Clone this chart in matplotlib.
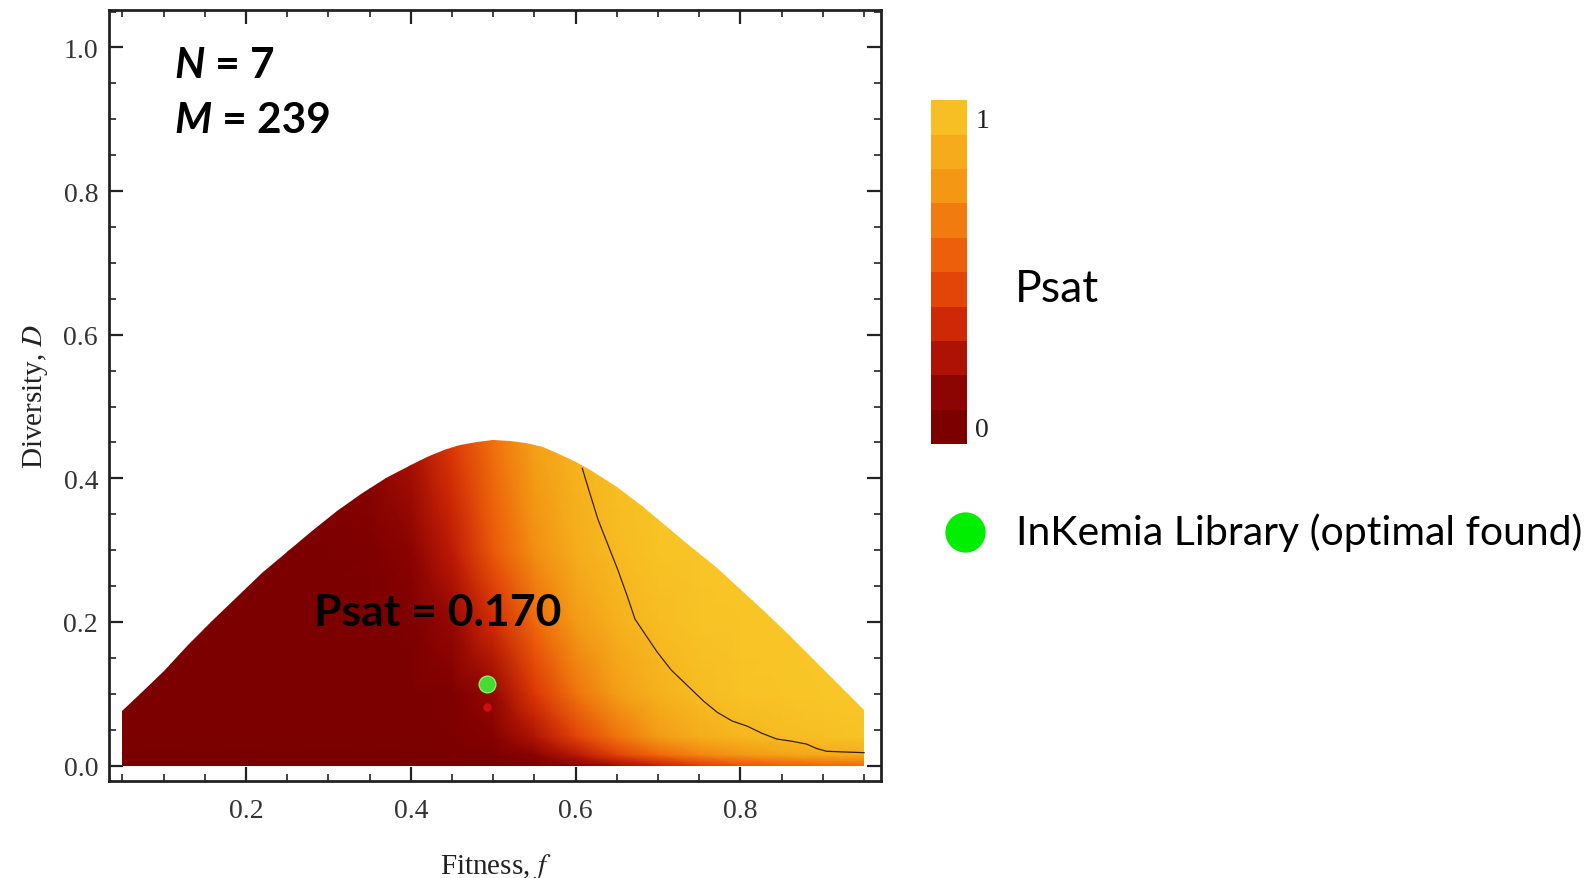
import numpy as np
import matplotlib
matplotlib.use('Agg')
import matplotlib.pyplot as plt
from matplotlib.colors import LinearSegmentedColormap, ListedColormap, Normalize
from matplotlib.patches import Polygon
from matplotlib.ticker import MultipleLocator
import matplotlib.cm as cm

# Psat sampled on a (D, f) grid
f_grid = [0.05, 0.15, 0.25, 0.35, 0.40, 0.45, 0.50, 0.55, 0.60, 0.65, 0.70, 0.75, 0.80, 0.85, 0.90, 0.95]
D_grid = [0.0, 0.015, 0.04, 0.10, 0.20, 0.30, 0.46]
psat_D000 = [0.00, 0.00, 0.00, 0.00, 0.00, 0.00, 0.02, 0.05, 0.12, 0.22, 0.32, 0.42, 0.50, 0.55, 0.58, 0.60]
psat_D015 = [0.01, 0.01, 0.01, 0.01, 0.01, 0.02, 0.06, 0.14, 0.28, 0.44, 0.58, 0.68, 0.75, 0.80, 0.84, 0.86]
psat_D040 = [0.03, 0.03, 0.03, 0.03, 0.04, 0.06, 0.12, 0.26, 0.44, 0.62, 0.77, 0.86, 0.91, 0.94, 0.96, 0.97]
psat_D100 = [0.03, 0.03, 0.03, 0.04, 0.05, 0.09, 0.18, 0.40, 0.62, 0.78, 0.88, 0.94, 0.97, 0.98, 0.99, 0.99]
psat_D200 = [0.03, 0.03, 0.04, 0.05, 0.08, 0.18, 0.36, 0.58, 0.77, 0.88, 0.94, 0.97, 0.98, 0.99, 0.99, 0.99]
psat_D300 = [0.03, 0.04, 0.05, 0.08, 0.14, 0.30, 0.52, 0.72, 0.86, 0.93, 0.97, 0.98, 0.99, 0.99, 0.99, 0.99]
psat_D460 = [0.05, 0.06, 0.08, 0.15, 0.25, 0.42, 0.62, 0.80, 0.90, 0.95, 0.98, 0.99, 0.99, 0.99, 0.99, 0.99]

# upper edge of the feasible (f, D) region
f_edge = [0.05, 0.07, 0.10, 0.13, 0.16, 0.19, 0.22, 0.25, 0.28, 0.31, 0.34, 0.37, 0.40, 0.42,
          0.44, 0.46, 0.48, 0.50, 0.52, 0.54, 0.56, 0.58, 0.60, 0.62, 0.65, 0.68, 0.71, 0.74,
          0.77, 0.80, 0.83, 0.86, 0.89, 0.92, 0.95]
D_edge = [0.076, 0.098, 0.132, 0.168, 0.203, 0.236, 0.268, 0.298, 0.327, 0.354, 0.378, 0.400, 0.419, 0.430,
          0.440, 0.447, 0.451, 0.453, 0.452, 0.449, 0.443, 0.434, 0.423, 0.410, 0.388, 0.362, 0.334, 0.305,
          0.276, 0.246, 0.214, 0.180, 0.146, 0.112, 0.078]

# iso-Psat line
f_iso = [0.608, 0.617, 0.627, 0.640, 0.651, 0.662, 0.672, 0.686, 0.699, 0.716, 0.736, 0.755, 0.772, 0.790, 0.808, 0.826, 0.844, 0.862, 0.880, 0.892, 0.904, 0.925, 0.950]
D_iso = [0.414, 0.380, 0.343, 0.305, 0.273, 0.238, 0.204, 0.180, 0.158, 0.133, 0.111, 0.090, 0.074, 0.062, 0.055, 0.045, 0.037, 0.034, 0.030, 0.024, 0.020, 0.019, 0.018]

# library point
lib_f = [0.493]
lib_D = [0.113]
red_f = [0.493]
red_D = [0.082]
psat_label = "Psat = 0.170"
N_val = 7
M_val = 239

colors = ['#7a0000', '#800000', '#9a0a04', '#c01a06', '#dc3606', '#ea5208', '#f06c0c',
          '#f28a12', '#f4a218', '#f6b41e', '#f8c828']
psat_cmap = LinearSegmentedColormap.from_list('psat', colors)
band_cmap = ListedColormap([psat_cmap(v) for v in np.linspace(0.05, 0.95, 10)])

plt.rcParams['font.family'] = ['Lato', 'DejaVu Sans']
plt.rcParams['mathtext.fontset'] = 'stix'

fig = plt.figure(figsize=(15.85, 8.79), dpi=100)
ax = fig.add_axes([0.0689, 0.1099, 0.4872, 0.8775])

Z = np.array([psat_D000, psat_D015, psat_D040, psat_D100, psat_D200, psat_D300, psat_D460])
F, D = np.meshgrid(f_grid, D_grid)
mesh = ax.pcolormesh(F, D, Z, cmap=psat_cmap, vmin=0, vmax=1, shading='gouraud', zorder=1)

region = Polygon(list(zip(f_edge, D_edge)) + [(0.95, 0.0), (0.05, 0.0)], closed=True,
                 transform=ax.transData, facecolor='none', edgecolor='none')
mesh.set_clip_path(region)

ax.plot(f_iso, D_iso, color='#3a2200', lw=0.9, zorder=2)
ax.plot(red_f, red_D, 'o', color='#d01010', ms=6, mec='none', zorder=3)
ax.plot(lib_f, lib_D, 'o', color='#44dd33', ms=12, mec='#88ee66', mew=1, zorder=4)

ax.set_xlim(0.034, 0.971)
ax.set_ylim(-0.022, 1.052)

serif = 'Liberation Serif'
ax.xaxis.set_major_locator(MultipleLocator(0.2))
ax.xaxis.set_minor_locator(MultipleLocator(0.05))
ax.yaxis.set_major_locator(MultipleLocator(0.2))
ax.yaxis.set_minor_locator(MultipleLocator(0.05))
ax.tick_params(which='both', direction='in', top=True, right=True, color='#222222')
ax.tick_params(which='major', length=10, width=1.6)
ax.tick_params(which='minor', length=5, width=1.2)
ax.tick_params(axis='x', pad=12)
ax.tick_params(axis='y', pad=8)
ax.set_xticks([0.2, 0.4, 0.6, 0.8])
ax.set_yticks([0.0, 0.2, 0.4, 0.6, 0.8, 1.0])
ax.set_xticklabels(['0.2', '0.4', '0.6', '0.8'], family=serif, fontsize=20, color='#333333')
ax.set_yticklabels(['0.0', '0.2', '0.4', '0.6', '0.8', '1.0'], family=serif, fontsize=20, color='#333333')
for sp in ax.spines.values():
    sp.set_linewidth(2)
    sp.set_color('#222222')

ax.set_xlabel('Fitness, $\\mathit{f}$', family=serif, fontsize=21, labelpad=20, color='#222222')
ax.set_ylabel('Diversity, $\\mathit{D}$', family=serif, fontsize=21, labelpad=10, color='#222222')

# N and M annotations
tN = ax.text(0.113, 0.959, 'N', fontsize=30.5, fontweight='bold', fontstyle='italic', va='baseline')
ax.annotate(' = %d' % N_val, xy=(1, 0), xycoords=tN, fontsize=30.5, fontweight='bold', va='bottom')
tM = ax.text(0.113, 0.882, 'M', fontsize=30.5, fontweight='bold', fontstyle='italic', va='baseline')
ax.annotate(' = %d' % M_val, xy=(1, 0), xycoords=tM, fontsize=30.5, fontweight='bold', va='bottom')

ax.text(0.432, 0.214, psat_label, fontsize=32, fontweight='bold', ha='center', va='center', zorder=5)

# colorbar
cax = fig.add_axes([0.5874, 0.4937, 0.0227, 0.391])
sm = cm.ScalarMappable(norm=Normalize(0, 1), cmap=band_cmap)
cb = fig.colorbar(sm, cax=cax, ticks=[0.05, 0.95])
cb.outline.set_visible(False)
cb.ax.tick_params(length=0, pad=6)
cb.ax.set_yticklabels(['0', '1'], family=serif, fontsize=20, color='#222222')
fig.text(0.640, 0.671, 'Psat', fontsize=32, va='center', ha='left')

# legend entry
fig.lines.append(plt.Line2D([0.609], [0.394], transform=fig.transFigure, marker='o', ms=29,
                            color='#00ee00', mec='none', ls='none'))
fig.text(0.641, 0.394, 'InKemia Library (optimal found)', fontsize=29.5, va='center', ha='left')

fig.savefig('out.png', dpi=100)
